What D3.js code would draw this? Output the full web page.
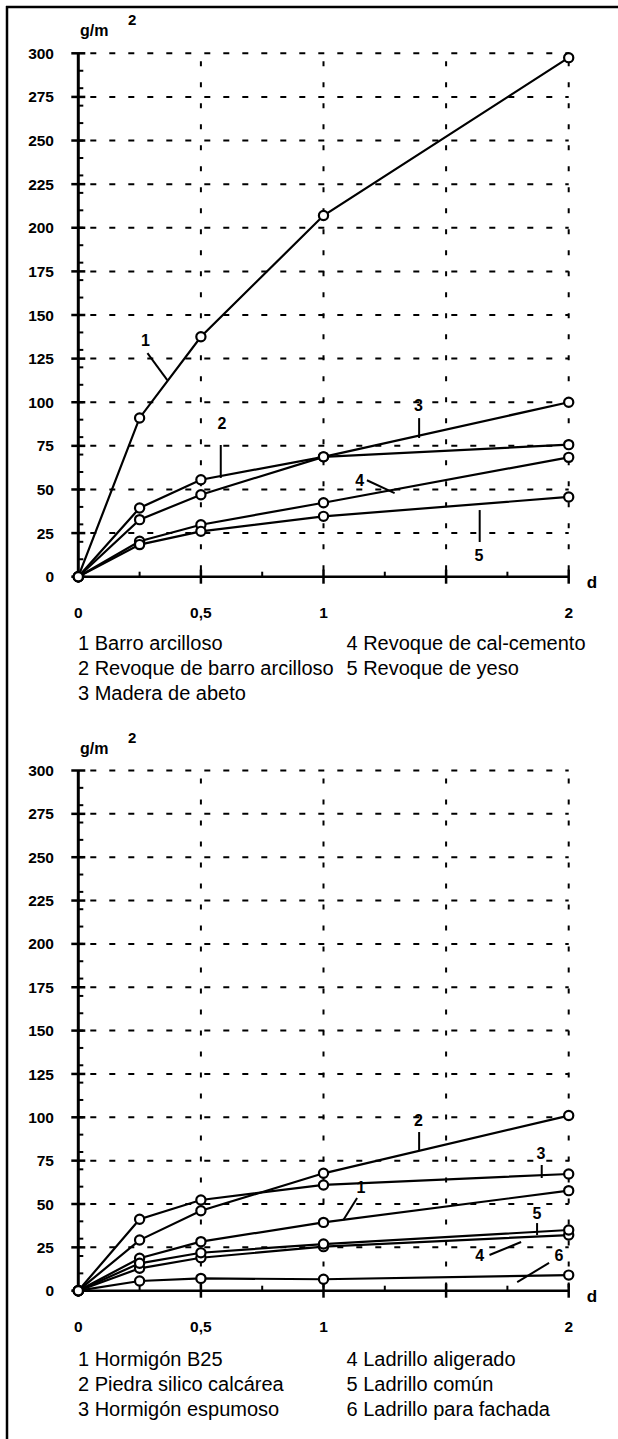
<!DOCTYPE html>
<html>
<head>
<meta charset="utf-8">
<script src="https://cdn.jsdelivr.net/npm/d3@7"></script>
<style>
  html, body { margin: 0; padding: 0; background: #fff; }
  body { font-family: "Liberation Sans", Arial, sans-serif; }
  .tick-label { font-weight: bold; font-size: 15.5px; }
  .note { font-weight: bold; font-size: 16px; }
  .legend { font-size: 20px; }
</style>
</head>
<body>
<svg id="chart" width="618" height="1439"></svg>
<script>
// x values (d) shared by both panels
const d_values = [0, 0.25, 0.5, 1, 2];
const x_ticks = [0, 0.5, 1, 2];
const x_tick_labels = ['0', '0,5', '1', '2'];
const y_ticks = [0, 25, 50, 75, 100, 125, 150, 175, 200, 225, 250, 275, 300];

// top panel series
const top_names = ['Barro arcilloso', 'Revoque de barro arcilloso', 'Madera de abeto',
    'Revoque de cal-cemento', 'Revoque de yeso'];
const top_s1 = [0, 91, 137.5, 207, 297.5];
const top_s2 = [0, 39.4, 55.6, 68.7, 75.7];
const top_s3 = [0, 32.7, 47, 68.7, 100];
const top_s4 = [0, 20.3, 29.8, 42.4, 68.4];
const top_s5 = [0, 18.4, 26, 34.6, 45.7];

// bottom panel series
const bot_names = ['Hormigón B25', 'Piedra silico calcárea', 'Hormigón espumoso',
    'Ladrillo aligerado', 'Ladrillo común', 'Ladrillo para fachada'];
const bot_s1 = [0, 18.7, 28.3, 39.4, 57.7];
const bot_s2 = [0, 29.2, 46.1, 67.7, 101];
const bot_s3 = [0, 41.2, 52.3, 61, 67.3];
const bot_s4 = [0, 12.9, 19, 25.4, 32.1];
const bot_s5 = [0, 15.8, 21.9, 26.9, 35];
const bot_s6 = [0, 5.6, 7.1, 6.6, 9];

// curve number labels with leaders, in data units: [label, tx, ty, x1, y1, x2, y2]
const top_notes = [
    ['1', 0.274, 135.6, 0.282, 128.2, 0.363, 112.7],
    ['2', 0.586, 88.1, 0.581, 75.5, 0.581, 56.6],
    ['3', 1.387, 98.4, 1.39, 90.9, 1.39, 79.5],
    ['4', 1.148, 55.3, 1.177, 55.3, 1.29, 47.9],
    ['5', 1.634, 12.4, 1.637, 38.2, 1.637, 19.9]
];
const bot_notes = [
    ['2', 1.387, 98.4, 1.39, 91.5, 1.39, 81.1],
    ['3', 1.887, 79.4, 1.89, 72.5, 1.89, 65],
    ['1', 1.153, 59.8, 1.137, 53.5, 1.081, 40.8],
    ['5', 1.871, 44.8, 1.871, 39, 1.871, 32.1],
    ['4', 1.637, 20.6, 1.677, 20.6, 1.806, 28.1],
    ['6', 1.96, 20.6, 1.92, 16, 1.79, 5]
];

let svg = d3.select('#chart');

// frame (only top and left edges are visible)
svg.append('line').attr('x1', 6).attr('x2', 618).attr('y1', 7).attr('y2', 7)
    .attr('stroke', '#000').attr('stroke-width', 2.5);
svg.append('line').attr('x1', 7).attr('x2', 7).attr('y1', 6).attr('y2', 1439)
    .attr('stroke', '#000').attr('stroke-width', 2.5);

function draw_panel(top, bottom, seriesList, names, notes, legendTop) {
    let g = svg.append('g');
    let x = d3.scaleLinear().domain([0, 2]).range([78.3, 568.7]);
    let y = d3.scaleLinear().domain([0, 300]).range([bottom, top]);

    // horizontal dashed grid
    g.selectAll('.hgrid')
        .data(y_ticks.filter(d => d > 0))
        .enter().append('line')
        .attr('x1', x(0) + 12).attr('x2', x(2))
        .attr('y1', d => y(d)).attr('y2', d => y(d))
        .attr('stroke', '#000').attr('stroke-width', 2)
        .attr('stroke-dasharray', '6,13');
    // vertical dashed grid
    g.selectAll('.vgrid')
        .data([0.5, 1, 1.5, 2])
        .enter().append('line')
        .attr('x1', d => x(d)).attr('x2', d => x(d))
        .attr('y1', y(300) + 8).attr('y2', y(0))
        .attr('stroke', '#000').attr('stroke-width', 2)
        .attr('stroke-dasharray', '5,16');

    // y axis
    g.append('line').attr('x1', x(0)).attr('x2', x(0))
        .attr('y1', y(300)).attr('y2', y(0))
        .attr('stroke', '#000').attr('stroke-width', 3);
    g.selectAll('.ymaj')
        .data(y_ticks).enter().append('line')
        .attr('x1', x(0) - 7).attr('x2', x(0) + 7)
        .attr('y1', d => y(d)).attr('y2', d => y(d))
        .attr('stroke', '#000').attr('stroke-width', 2.5);
    g.selectAll('.ymin')
        .data(d3.range(10, 300, 10)).enter().append('line')
        .attr('x1', x(0)).attr('x2', x(0) + 5)
        .attr('y1', d => y(d)).attr('y2', d => y(d))
        .attr('stroke', '#000').attr('stroke-width', 2);
    g.selectAll('.ylab')
        .data(y_ticks).enter().append('text')
        .attr('class', 'tick-label')
        .attr('x', 54).attr('y', d => y(d)).attr('dy', '0.36em')
        .attr('text-anchor', 'end')
        .text(d => d);

    // x axis
    g.append('line').attr('x1', x(0)).attr('x2', x(2))
        .attr('y1', y(0)).attr('y2', y(0))
        .attr('stroke', '#000').attr('stroke-width', 2.5);
    g.selectAll('.xmaj')
        .data([0.5, 1, 1.5, 2]).enter().append('line')
        .attr('x1', d => x(d)).attr('x2', d => x(d))
        .attr('y1', y(0) - 7).attr('y2', y(0) + 7)
        .attr('stroke', '#000').attr('stroke-width', 2.5);
    g.selectAll('.xmin')
        .data([0.25, 0.75, 1.25, 1.75]).enter().append('line')
        .attr('x1', d => x(d)).attr('x2', d => x(d))
        .attr('y1', y(0) - 5).attr('y2', y(0))
        .attr('stroke', '#000').attr('stroke-width', 2);
    g.selectAll('.xlab')
        .data(x_ticks).enter().append('text')
        .attr('class', 'tick-label')
        .attr('x', d => x(d)).attr('y', y(0) + 41)
        .attr('text-anchor', 'middle')
        .text((d, i) => x_tick_labels[i]);
    g.append('text').attr('class', 'tick-label')
        .attr('x', 592).attr('y', y(0) + 11)
        .attr('text-anchor', 'middle')
        .style('font-size', '17px')
        .text('d');

    // unit label
    g.append('text').attr('class', 'tick-label')
        .attr('x', 80).attr('y', y(300) - 17)
        .style('font-size', '16px')
        .text('g/m');
    g.append('text').attr('class', 'tick-label')
        .attr('x', 128).attr('y', y(300) - 28)
        .style('font-size', '15px')
        .text('2');

    // series
    let line = d3.line().x((d, i) => x(d_values[i])).y(d => y(d));
    seriesList.forEach(s => {
        g.append('path').datum(s)
            .attr('d', line)
            .attr('fill', 'none').attr('stroke', '#000').attr('stroke-width', 2.2);
    });
    seriesList.forEach(s => {
        g.selectAll(null).data(s).enter().append('circle')
            .attr('cx', (d, i) => x(d_values[i]))
            .attr('cy', d => y(d))
            .attr('r', 4.6)
            .attr('fill', '#fff').attr('stroke', '#000').attr('stroke-width', 2.2);
    });

    // curve labels
    notes.forEach(n => {
        g.append('line')
            .attr('x1', x(n[3])).attr('y1', y(n[4]))
            .attr('x2', x(n[5])).attr('y2', y(n[6]))
            .attr('stroke', '#000').attr('stroke-width', 2);
        g.append('text').attr('class', 'note')
            .attr('x', x(n[1])).attr('y', y(n[2])).attr('dy', '0.36em')
            .attr('text-anchor', 'middle')
            .text(n[0]);
    });

    // legend: first column gets 3 rows
    names.forEach((name, i) => {
        let col = i < 3 ? 0 : 1;
        let row = i % 3;
        g.append('text').attr('class', 'legend')
            .attr('x', col == 0 ? 78 : 346.5)
            .attr('y', legendTop + row * 25)
            .text((i + 1) + ' ' + name);
    });
}

draw_panel(53.3, 576.7, [top_s1, top_s2, top_s3, top_s4, top_s5], top_names, top_notes, 650);
draw_panel(770.5, 1290.7, [bot_s1, bot_s2, bot_s3, bot_s4, bot_s5, bot_s6], bot_names, bot_notes, 1366);
</script>
</body>
</html>
